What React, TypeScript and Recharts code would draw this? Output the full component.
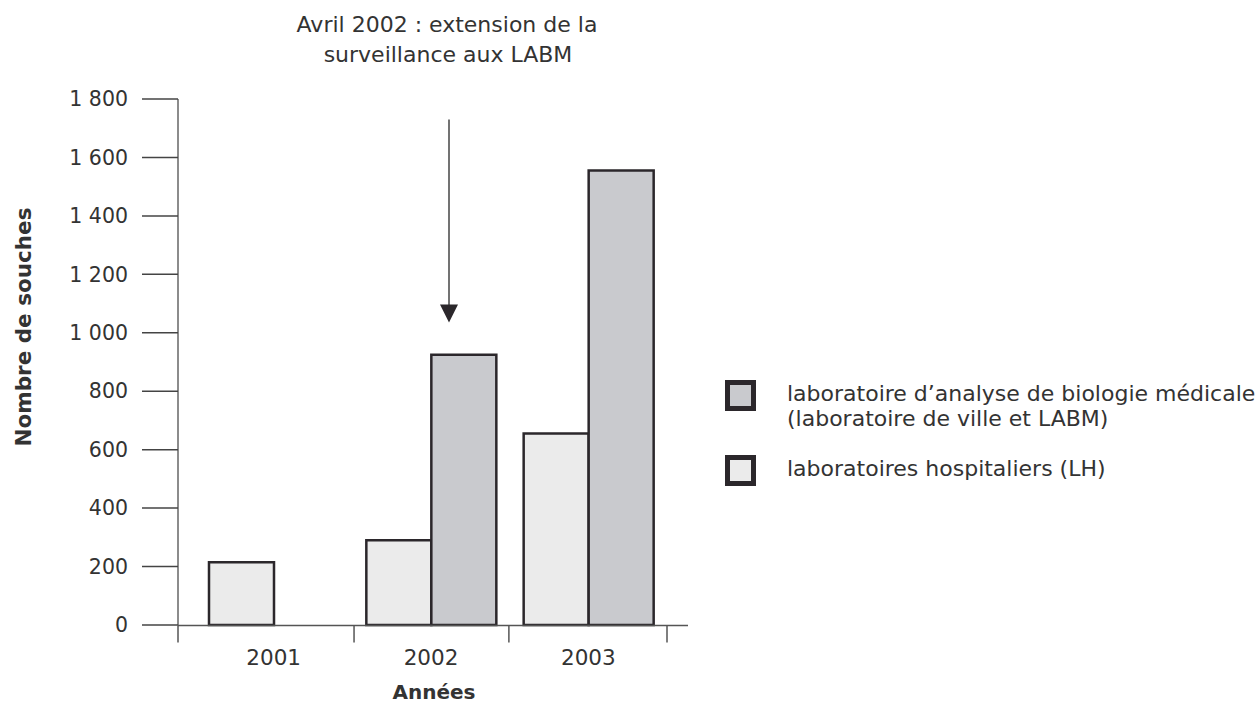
import React from 'react';
import { BarChart, Bar, XAxis, YAxis, Legend, ReferenceLine, Label } from 'recharts';

const YEARS = ['2001', '2002', '2003'];
const LH = [215, 290, 655];
const LABM = [null, 925, 1555]; // pas de LABM avant avril 2002
const Y_TICKS = [0, 200, 400, 600, 800, 1000, 1200, 1400, 1600, 1800];
// limites des années sur l'axe (en années)
const YEAR_EDGES = [2000.5, 2001.58, 2002.53, 2003.5];
const ANNOTATION = ['Avril 2002 : extension de la', 'surveillance aux LABM'];
const ARROW_FROM = 1730;
const ARROW_TO = 1035;

const LEGEND = [
  { key: 'labm', lines: ['laboratoire d’analyse de biologie médicale', '(laboratoire de ville et LABM)'] },
  { key: 'lh', lines: ['laboratoires hospitaliers (LH)'] },
];

const COLORS: Record<string, string> = {
  labm: '#c9cace',
  lh: '#ebebeb',
};
const INK = '#2b272b';
const TEXT = '#333';
const FONT = "'DejaVu Sans', Verdana, sans-serif";

const data = YEARS.map((year, i) => ({ year, lh: LH[i], labm: LABM[i] }));

const fmt = (v: number) =>
  v >= 1000 ? `${Math.floor(v / 1000)} ${String(v % 1000).padStart(3, '0')}` : String(v);

const noLabel = () => <g />;

const renderArrow = (props: any) => {
  const { x1, y1, y2 } = props;
  const x = x1 + 18;
  const top = Math.min(y1, y2);
  const tip = Math.max(y1, y2);
  return (
    <g>
      <text x={x - 2} y={top - 87} textAnchor="middle" fontSize={22} fill={TEXT} fontFamily={FONT}>
        {ANNOTATION[0]}
      </text>
      <text x={x - 1} y={top - 57} textAnchor="middle" fontSize={22} fill={TEXT} fontFamily={FONT}>
        {ANNOTATION[1]}
      </text>
      <line x1={x} y1={top} x2={x} y2={tip - 16} stroke="#444" strokeWidth={1.5} />
      <polygon points={`${x - 9},${tip - 18} ${x + 9},${tip - 18} ${x},${tip}`} fill={INK} />
    </g>
  );
};

const renderYLabel = (props: any) => {
  const { viewBox } = props;
  const x = viewBox.x + 31;
  const y = 327;
  return (
    <text x={x} y={y} transform={`rotate(-90, ${x}, ${y})`} textAnchor="middle"
      fontSize={21.5} fontWeight="bold" fill={TEXT} fontFamily={FONT}>
      Nombre de souches
    </text>
  );
};

const renderXLabel = (props: any) => {
  const { viewBox } = props;
  return (
    <text x={viewBox.x + viewBox.width / 2 + 1} y={699} textAnchor="middle"
      fontSize={20} fontWeight="bold" fill={TEXT} fontFamily={FONT}>
      Années
    </text>
  );
};

const renderLegend = () => (
  <div style={{ fontFamily: FONT, fontSize: 22, color: TEXT }}>
    {LEGEND.map((item) => (
      <div key={item.key} style={{ display: 'flex', alignItems: 'flex-start', marginBottom: 25 }}>
        <div
          style={{
            width: 31, height: 31, marginTop: -1, boxSizing: 'border-box', flexShrink: 0,
            border: `5px solid ${INK}`, background: COLORS[item.key],
          }}
        />
        <div style={{ marginLeft: 31, lineHeight: '25px', whiteSpace: 'nowrap' }}>
          {item.lines.map((l) => <div key={l}>{l}</div>)}
        </div>
      </div>
    ))}
  </div>
);

export default function App() {
  return (
    <div style={{ position: 'absolute', left: 0, top: 0, background: '#fff' }}>
      <BarChart
        width={1260}
        height={705}
        data={data}
        margin={{ top: 99, right: 572, bottom: 79, left: 0 }}
        barGap={0}
      >
        <XAxis
          xAxisId="edges"
          type="number"
          dataKey={(d: any) => Number(d.year)}
          domain={[YEAR_EDGES[0], YEAR_EDGES[YEAR_EDGES.length - 1]]}
          ticks={YEAR_EDGES}
          interval={0}
          allowDataOverflow
          padding={{ left: 0, right: 21 }}
          height={0.5}
          tick={noLabel}
          tickSize={17}
          tickLine={{ stroke: '#555', strokeWidth: 1.5 }}
          axisLine={{ stroke: '#555', strokeWidth: 1.5 }}
        />
        <XAxis
          dataKey="year"
          height={0.5}
          padding={{ left: 17, right: 21 }}
          axisLine={false}
          tickLine={false}
          tickSize={0}
          tickMargin={25}
          tick={{ fontSize: 21.5, fill: TEXT, fontFamily: FONT }}
        >
          <Label content={renderXLabel} />
        </XAxis>
        <YAxis
          domain={[0, 1800]}
          ticks={Y_TICKS}
          interval={0}
          width={178}
          tickSize={36}
          tickMargin={14}
          tickFormatter={fmt}
          tick={{ fontSize: 20.5, fill: TEXT, fontFamily: FONT }}
          tickLine={{ stroke: '#444', strokeWidth: 1.5 }}
          axisLine={{ stroke: '#666', strokeWidth: 1.5 }}
        >
          <Label content={renderYLabel} />
        </YAxis>
        <Legend
          verticalAlign="middle"
          align="center"
          layout="horizontal"
          content={renderLegend}
          wrapperStyle={{ left: 725, top: 381, width: 535 }}
        />
        <Bar dataKey="lh" barSize={65} fill={COLORS.lh} stroke={INK} strokeWidth={2.5} isAnimationActive={false} />
        <Bar dataKey="labm" barSize={65} fill={COLORS.labm} stroke={INK} strokeWidth={2.5} isAnimationActive={false} />
        <ReferenceLine
          segment={[{ x: '2002', y: ARROW_FROM }, { x: '2002', y: ARROW_TO }]}
          shape={renderArrow}
        />
      </BarChart>
    </div>
  );
}
